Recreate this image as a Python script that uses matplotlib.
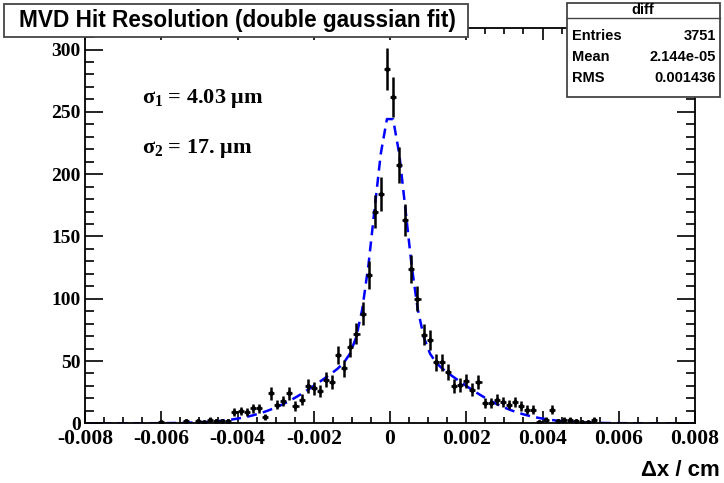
import numpy as np
import matplotlib

matplotlib.use("Agg")
import matplotlib.pyplot as plt
from matplotlib.patches import Rectangle
from matplotlib.ticker import MultipleLocator, FuncFormatter

# histogram "diff": 100 bins on [-0.008, 0.008] cm
x_lo, x_hi, n_bins = -0.008, 0.008, 100
counts = [
    0, 0, 0, 0, 0, 0, 0, 0, 0, 0,
    0, 0, 1, 0, 0, 0, 2, 0, 2, 1,
    3, 2, 2, 2, 9, 10, 9, 12, 12, 5,
    24, 15, 18, 24, 14, 19, 30, 28, 26, 35,
    33, 55, 44, 61, 72, 88, 119, 170, 184, 284,
    262, 207, 163, 124, 100, 71, 67, 49, 49, 41,
    30, 31, 34, 27, 33, 16, 16, 19, 17, 15,
    17, 14, 11, 11, 1, 3, 11, 2, 3, 3,
    2, 1, 1, 3, 0, 0, 0, 0, 0, 0,
    0, 0, 0, 0, 0, 0, 0, 0, 0, 0,
]

# double gaussian fit parameters (sigmas from the plot)
fit_amp1, fit_sigma1 = 188.0, 4.03e-4
fit_amp2, fit_sigma2 = 60.0, 1.7e-3
fit_mean = 0.0

stats_rows = [("Entries", "3751"), ("Mean", "2.144e-05"), ("RMS", "0.001436")]

W, H = 724, 483
fig = plt.figure(figsize=(W / 100, H / 100), dpi=100)
ax = fig.add_axes([85 / W, 1 - 423.3 / H, 610 / W, (423.3 - 28) / H])

edges = np.linspace(x_lo, x_hi, n_bins + 1)
centers = 0.5 * (edges[:-1] + edges[1:])
bw = edges[1] - edges[0]
y = np.array(counts, dtype=float)
m = y > 0
ax.errorbar(centers[m], y[m], yerr=np.sqrt(y[m]), xerr=bw / 2, fmt="o", ms=2.5,
            color="k", elinewidth=1.8, capsize=0, zorder=3)

# fitted curve, drawn as ROOT does with 100 points
xf = np.linspace(x_lo, x_hi, 100)
yf = (fit_amp1 * np.exp(-0.5 * ((xf - fit_mean) / fit_sigma1) ** 2)
      + fit_amp2 * np.exp(-0.5 * ((xf - fit_mean) / fit_sigma2) ** 2))
ax.plot(xf, yf, color="#0000ff", lw=1.8, dashes=(4, 2.5), zorder=2)

ax.set_xlim(x_lo, x_hi)
ax.set_ylim(0, 317.3)
ax.xaxis.set_major_locator(MultipleLocator(0.002))
ax.xaxis.set_minor_locator(MultipleLocator(0.0005))
ax.yaxis.set_major_locator(MultipleLocator(50))
ax.yaxis.set_minor_locator(MultipleLocator(10))
ax.xaxis.set_major_formatter(FuncFormatter(lambda v, p: "0" if abs(v) < 1e-9 else f"{v:g}"))
ax.tick_params(which="both", direction="in", top=True, right=True, width=1.2)
ax.tick_params(axis="x", which="major", length=8.6, pad=4)
ax.tick_params(axis="x", which="minor", length=4.3)
ax.tick_params(axis="y", which="major", length=13, pad=3)
ax.tick_params(axis="y", which="minor", length=6.5)
for lab in ax.get_xticklabels():
    lab.set_family("Liberation Serif")
    lab.set_fontweight("bold")
    lab.set_fontsize(15.5)
for lab in ax.get_yticklabels():
    lab.set_family("Liberation Serif")
    lab.set_fontweight("bold")
    lab.set_fontsize(14)
for s in ax.spines.values():
    s.set_linewidth(1.3)

fig.text(720 / W, 1 - 470 / H, "\u0394x / cm", ha="right", va="center",
         family="Liberation Sans", fontweight="bold", fontsize=16)

plt.rcParams["mathtext.fontset"] = "custom"
plt.rcParams["mathtext.rm"] = "Liberation Serif:bold"
plt.rcParams["mathtext.it"] = "Liberation Serif:bold"
plt.rcParams["mathtext.bf"] = "Liberation Serif:bold"
fig.text(142 / W, 1 - 98.5 / H, r"$\sigma_1$ = 4.03 $\mu$m", va="center", ha="left",
         family="Liberation Serif", fontweight="bold", fontsize=16)
fig.text(142 / W, 1 - 148 / H, r"$\sigma_2$ = 17. $\mu$m", va="center", ha="left",
         family="Liberation Serif", fontweight="bold", fontsize=16)


def px_box(x0, y0, x1, y1):
    fig.patches.append(Rectangle((x0 / W, 1 - y1 / H), (x1 - x0) / W, (y1 - y0) / H,
                                 transform=fig.transFigure, facecolor="white",
                                 edgecolor="#444444", lw=1.3, zorder=5))


# title box
px_box(4, 4, 468, 37)
fig.text(237 / W, 1 - 20.5 / H, "MVD Hit Resolution (double gaussian fit)", ha="center",
         va="center", family="Liberation Sans", fontweight="bold", fontsize=16.3, zorder=6)

# stats box
px_box(567, 3, 720, 97)
fig.add_artist(plt.Line2D([567 / W, 720 / W], [1 - 18 / H, 1 - 18 / H],
                          transform=fig.transFigure, color="#444444", lw=1.0, zorder=6))
fig.text(643 / W, 1 - 10.5 / H, "diff", ha="center", va="center",
         family="Liberation Sans", fontweight="bold", fontsize=10.5, zorder=6)
for i, (k, v) in enumerate(stats_rows):
    yy = 1 - (36 + 21 * i) / H
    fig.text(572 / W, yy, k, ha="left", va="center", family="Liberation Sans",
             fontweight="bold", fontsize=10.5, zorder=6)
    fig.text(716 / W, yy, v, ha="right", va="center", family="Liberation Sans",
             fontweight="bold", fontsize=10.5, zorder=6)

fig.savefig("out.png", dpi=100)
